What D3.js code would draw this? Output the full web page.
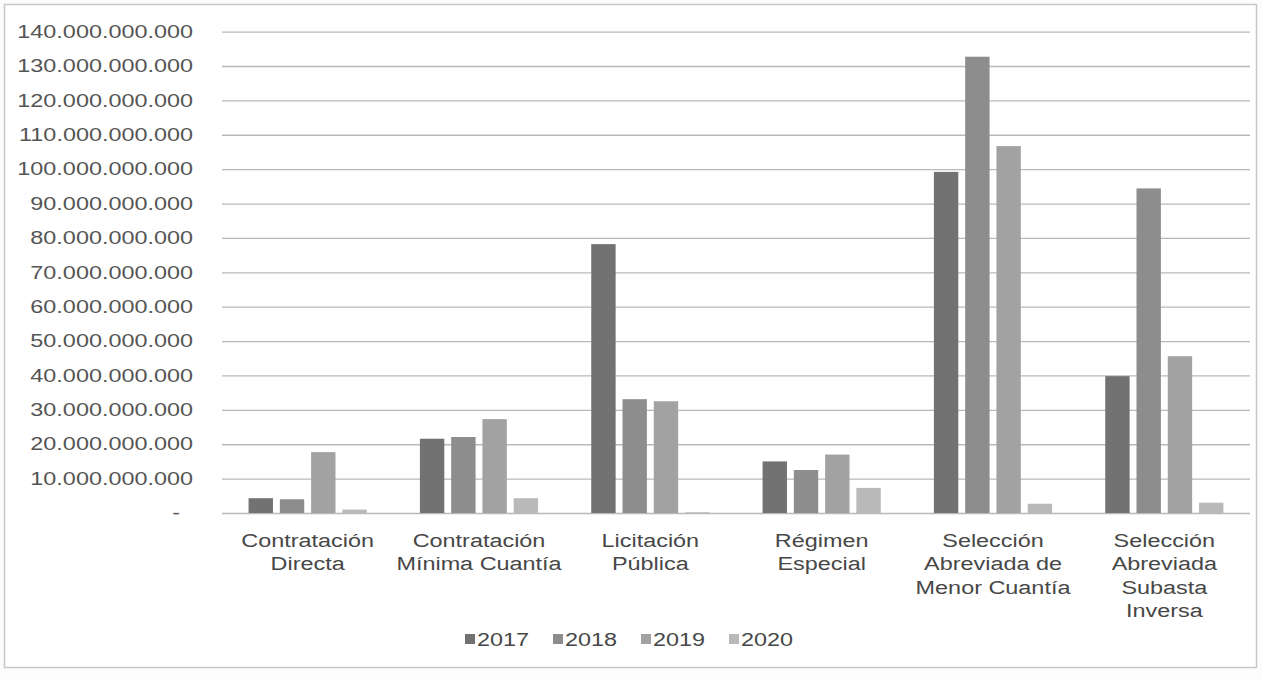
<!DOCTYPE html>
<html>
<head>
<meta charset="utf-8">
<script src="https://cdn.jsdelivr.net/npm/d3@7"></script>
<style>
  html, body { margin: 0; padding: 0; background: #fcfcfc; }
  svg { display: block; font-family: "Liberation Sans", Arial, sans-serif; }
</style>
</head>
<body>
<svg></svg>
<script>
const categories = [
  "Contratación Directa",
  "Contratación Mínima Cuantía",
  "Licitación Pública",
  "Régimen Especial",
  "Selección Abreviada de Menor Cuantía",
  "Selección Abreviada Subasta Inversa",
];
const categoryLines = [
  ["Contratación", "Directa"],
  ["Contratación", "Mínima Cuantía"],
  ["Licitación", "Pública"],
  ["Régimen", "Especial"],
  ["Selección", "Abreviada de", "Menor Cuantía"],
  ["Selección", "Abreviada", "Subasta", "Inversa"],
];
const years = ["2017", "2018", "2019", "2020"];
const values2017 = [4.3e9, 21.6e9, 78.2e9, 15.0e9, 99.2e9, 39.8e9];
const values2018 = [4.0e9, 22.1e9, 33.1e9, 12.5e9, 132.7e9, 94.4e9];
const values2019 = [17.7e9, 27.3e9, 32.5e9, 17.0e9, 106.7e9, 45.6e9];
const values2020 = [1.0e9, 4.3e9, 0.2e9, 7.3e9, 2.7e9, 3.0e9];
const yTicks = [0, 10e9, 20e9, 30e9, 40e9, 50e9, 60e9, 70e9, 80e9, 90e9, 100e9, 110e9, 120e9, 130e9, 140e9];

const series = [values2017, values2018, values2019, values2020];
const colors = ["#727272", "#8d8d8d", "#a2a2a2", "#b9b9b9"];

const width = 1262;
const height = 679;
const stretch = 1.3; // the reference text is wide
const margin = { top: 31.6, right: 12, bottom: 166, left: 222 };

const svg = d3.select("svg").attr("width", width).attr("height", height);

// widen text in place, keeping its anchor
function widen(sel) {
  sel.each(function () {
    const w = this.getComputedTextLength();
    d3.select(this)
      .attr("textLength", w * stretch)
      .attr("lengthAdjust", "spacingAndGlyphs");
  });
}

// chart frame
svg
  .append("rect")
  .attr("x", 4.5)
  .attr("y", 4.5)
  .attr("width", 1252)
  .attr("height", 663)
  .attr("fill", "#ffffff")
  .attr("stroke", "#c8c8c8")
  .attr("stroke-width", 1.5);

const innerWidth = width - margin.left - margin.right;
const innerHeight = height - margin.top - margin.bottom;

const x0 = d3.scaleBand().domain(categories).range([0, innerWidth]).padding(0);
const x1 = d3
  .scaleBand()
  .domain(years)
  .range([0, x0.bandwidth()])
  .paddingInner(0.22)
  .paddingOuter(0.85);
const y = d3.scaleLinear().domain([0, 140e9]).range([innerHeight, 0]);

const locale = d3.formatLocale({ decimal: ",", thousands: ".", grouping: [3], currency: ["", ""] });
const fmt = locale.format(",");

const chart = svg
  .append("g")
  .attr("transform", `translate(${margin.left},${margin.top})`);

// gridlines + labels
const yAxisG = chart
  .append("g")
  .call(
    d3
      .axisLeft(y)
      .tickValues(yTicks)
      .tickSize(-innerWidth)
      .tickPadding(0)
      .tickFormat((d) => (d === 0 ? "-" : fmt(d)))
  );
yAxisG.select(".domain").remove();
yAxisG.selectAll(".tick line").attr("stroke", "#b9b9b9").attr("stroke-width", 1.3);
yAxisG
  .selectAll(".tick text")
  .attr("fill", "#555555")
  .attr("font-size", 18)
  .attr("font-family", "'Liberation Sans', Arial, sans-serif")
  .attr("x", (d) => (d === 0 ? -42 : -29))
  .call(widen);

// bars
const groups = chart
  .selectAll(".cat")
  .data(categories)
  .join("g")
  .attr("class", "cat")
  .attr("transform", (d) => `translate(${x0(d)},0)`);

groups
  .selectAll("rect")
  .data((d, i) => years.map((yr, j) => ({ yr, j, v: series[j][i] })))
  .join("rect")
  .attr("x", (d) => x1(d.yr))
  .attr("y", (d) => y(d.v))
  .attr("width", x1.bandwidth())
  .attr("height", (d) => innerHeight - y(d.v))
  .attr("fill", (d) => colors[d.j]);

// category labels
const labels = chart
  .append("g")
  .attr("transform", `translate(0,${innerHeight})`)
  .selectAll("g")
  .data(categories)
  .join("g")
  .attr("transform", (d) => `translate(${x0(d) + x0.bandwidth() / 2},0)`);

labels
  .selectAll("text")
  .data((d, i) => categoryLines[i])
  .join("text")
  .attr("text-anchor", "middle")
  .attr("y", (d, i) => 34 + i * 23.3)
  .attr("fill", "#474747")
  .attr("font-size", 18)
  .text((d) => d)
  .call(widen);

// legend
const legendStep = 88;
const legend = svg
  .append("g")
  .attr("transform", `translate(${637 - (legendStep * years.length) / 2 + 4},640)`);

const items = legend
  .selectAll("g")
  .data(years)
  .join("g")
  .attr("transform", (d, i) => `translate(${i * legendStep},0)`);

items
  .append("rect")
  .attr("x", 0)
  .attr("y", -6)
  .attr("width", 10)
  .attr("height", 10)
  .attr("fill", (d, i) => colors[i]);

items
  .append("text")
  .attr("x", 12)
  .attr("y", 6)
  .attr("fill", "#474747")
  .attr("font-size", 18)
  .text((d) => d)
  .call(widen);
</script>
</body>
</html>
